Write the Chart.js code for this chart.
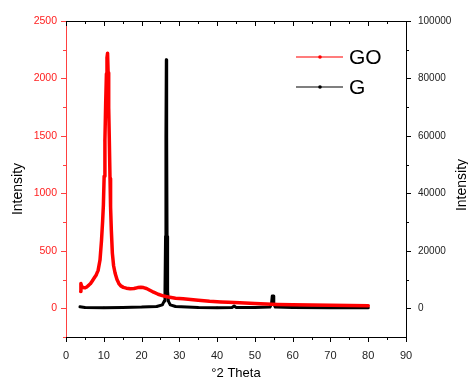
<!DOCTYPE html>
<html>
<head>
<meta charset="utf-8">
<script src="https://cdn.jsdelivr.net/npm/chart.js@4"></script>
<style>
html,body{margin:0;padding:0;background:#fff;}
#wrap{width:468px;height:380px;}
</style>
</head>
<body>
<div id="wrap"><canvas id="c" width="468" height="380"></canvas></div>
<script>
// ---- Data ----
const seriesNames = ['GO', 'G'];
const goX = [3.9,3.95,4.1,4.5,5,5.5,6,6.5,7,7.5,8,8.5,9,9.4,9.7,9.9,10.1,10.3,10.5,10.7,10.85,11.0,11.15,11.3,11.47,11.65,11.8,12.0,12.27,12.6,13,13.5,14,14.5,15.2,16,17,18,19,19.8,20.5,21.3,22.2,23.2,24.4,25.5,26.5,27.5,29,31,33,35,38,41,43,46,50,53,56,60,65,70,75,80];
const goY = [145,215,195,180,178,185,200,215,240,265,290,330,420,590,760,900,1150,1460,1780,2040,2180,2220,2050,1750,1460,1130,880,680,480,370,305,250,215,195,182,175,170,172,180,183,180,172,157,140,122,110,102,95,88,82,77,70,61,55,52,48,42,37,33,30,28,26,24,22];
const gX = [3.7,5,10,15,20,24,25.5,26.0,26.2,26.35,26.45,26.55,26.65,26.75,26.9,27.1,27.6,29,35,40,44,44.5,45,50,54,54.4,54.6,54.8,55,55.4,60,70,80];
const gY = [500,300,200,300,400,600,1200,2500,6000,25000,60000,86500,60000,25000,6000,2500,1200,600,300,200,300,800,300,300,400,1500,4300,4300,1500,400,300,200,200];
const xTicks = [0,10,20,30,40,50,60,70,80,90];
const yLeftTicks = [0,500,1000,1500,2000,2500];
const yRightTicks = [0,20000,40000,60000,80000,100000];
const xTitle = '°2 Theta';
const yTitle = 'Intensity';

const toPts = (xs, ys) => xs.map((x, i) => ({x: x, y: ys[i]}));
const plain = v => String(v);

const FONT = '"Liberation Sans", Arial, sans-serif';

const decorPlugin = {
  id: 'decor',
  afterDraw(chart) {
    const ctx = chart.ctx;
    const a = chart.chartArea;
    const sx = chart.scales.x, sy = chart.scales.y, sy2 = chart.scales.y2;
    ctx.save();
    ctx.lineWidth = 1;
    ctx.strokeStyle = '#000';
    ctx.beginPath(); ctx.moveTo(a.left, a.top + 0.5); ctx.lineTo(a.right, a.top + 0.5); ctx.stroke();
    for (let v = 0; v <= 90; v += 5) {
      const px = Math.round(sx.getPixelForValue(v)) + 0.5;
      const len = (v % 10 === 0) ? 5 : 3;
      ctx.beginPath(); ctx.moveTo(px, a.bottom); ctx.lineTo(px, a.bottom + len); ctx.stroke();
      ctx.beginPath(); ctx.moveTo(px, a.top); ctx.lineTo(px, a.top + len); ctx.stroke();
    }
    for (let v = 0; v <= 100000; v += 10000) {
      const py = Math.round(sy2.getPixelForValue(v)) + 0.5;
      const len = (v % 20000 === 0) ? 5 : 3;
      ctx.beginPath(); ctx.moveTo(a.right, py); ctx.lineTo(a.right + len, py); ctx.stroke();
    }
    ctx.strokeStyle = '#ff4040';
    for (let v = -250; v <= 2500; v += 250) {
      const py = Math.round(sy.getPixelForValue(v)) + 0.5;
      const len = (v % 500 === 0) ? 5 : 3;
      ctx.beginPath(); ctx.moveTo(a.left, py); ctx.lineTo(a.left - len, py); ctx.stroke();
    }
    ctx.fillStyle = '#000';
    ctx.textAlign = 'center';
    ctx.textBaseline = 'middle';
    ctx.font = '13px ' + FONT;
    ctx.fillText(xTitle, (a.left + a.right) / 2, 373);
    ctx.font = '14px ' + FONT;
    ctx.save(); ctx.translate(18, 189); ctx.rotate(-Math.PI / 2); ctx.fillText(yTitle, 0, 0); ctx.restore();
    ctx.save(); ctx.translate(462, 185); ctx.rotate(-Math.PI / 2); ctx.fillText(yTitle, 0, 0); ctx.restore();
    const items = [
      {label: seriesNames[0], color: '#ff5050', dot: '#ff0000', y: 57},
      {label: seriesNames[1], color: '#555555', dot: '#000000', y: 87}
    ];
    ctx.font = '21px ' + FONT;
    ctx.textAlign = 'left';
    items.forEach(it => {
      ctx.strokeStyle = it.color; ctx.lineWidth = 1.5;
      ctx.beginPath(); ctx.moveTo(296, it.y); ctx.lineTo(343, it.y); ctx.stroke();
      ctx.fillStyle = it.dot;
      ctx.beginPath(); ctx.arc(320, it.y, 1.8, 0, Math.PI * 2); ctx.fill();
      ctx.fillStyle = '#000';
      ctx.fillText(it.label, 349, it.y + 1);
    });
    ctx.restore();
  }
};

new Chart(document.getElementById('c'), {
  type: 'scatter',
  data: {
    datasets: [
      {
        label: seriesNames[1],
        data: toPts(gX, gY),
        yAxisID: 'y2',
        showLine: true,
        borderColor: '#000',
        backgroundColor: '#000',
        borderWidth: 3,
        borderJoinStyle: 'round',
        borderCapStyle: 'round',
        pointRadius: 1.3,
        pointBorderWidth: 0,
        pointStyle: 'rect',
        tension: 0,
        order: 2
      },
      {
        label: seriesNames[0],
        data: toPts(goX, goY),
        yAxisID: 'y',
        showLine: true,
        borderColor: '#ff0000',
        backgroundColor: '#ff0000',
        borderWidth: 3.5,
        borderJoinStyle: 'round',
        borderCapStyle: 'round',
        pointRadius: 1.5,
        pointBorderWidth: 0,
        pointStyle: 'rect',
        tension: 0,
        order: 1
      }
    ]
  },
  options: {
    responsive: false,
    animation: false,
    devicePixelRatio: 1,
    layout: {padding: {top: 21, left: 0, right: 0, bottom: 0}},
    plugins: {legend: {display: false}, tooltip: {enabled: false}},
    scales: {
      x: {
        type: 'linear', position: 'bottom', min: 0, max: 90,
        afterBuildTicks: s => { s.ticks = xTicks.map(v => ({value: v})); },
        afterFit: s => { s.height = 43; },
        grid: {display: false},
        border: {display: true, color: '#000', width: 1},
        ticks: {color: '#222', font: {family: FONT, size: 11}, padding: 4, maxRotation: 0, callback: plain}
      },
      y: {
        type: 'linear', position: 'left', min: -250, max: 2500,
        afterBuildTicks: s => { s.ticks = yLeftTicks.map(v => ({value: v})); },
        afterFit: s => { s.width = 66; },
        grid: {display: false},
        border: {display: true, color: '#ff4040', width: 1},
        ticks: {color: '#ff2020', font: {family: FONT, size: 10.5}, padding: 1, callback: plain}
      },
      y2: {
        type: 'linear', position: 'right', min: -10000, max: 100000,
        afterBuildTicks: s => { s.ticks = yRightTicks.map(v => ({value: v})); },
        afterFit: s => { s.width = 62; },
        grid: {display: false},
        border: {display: true, color: '#000', width: 1},
        ticks: {color: '#222', font: {family: FONT, size: 10}, padding: 4, callback: plain}
      }
    }
  },
  plugins: [decorPlugin]
});
</script>
</body>
</html>
